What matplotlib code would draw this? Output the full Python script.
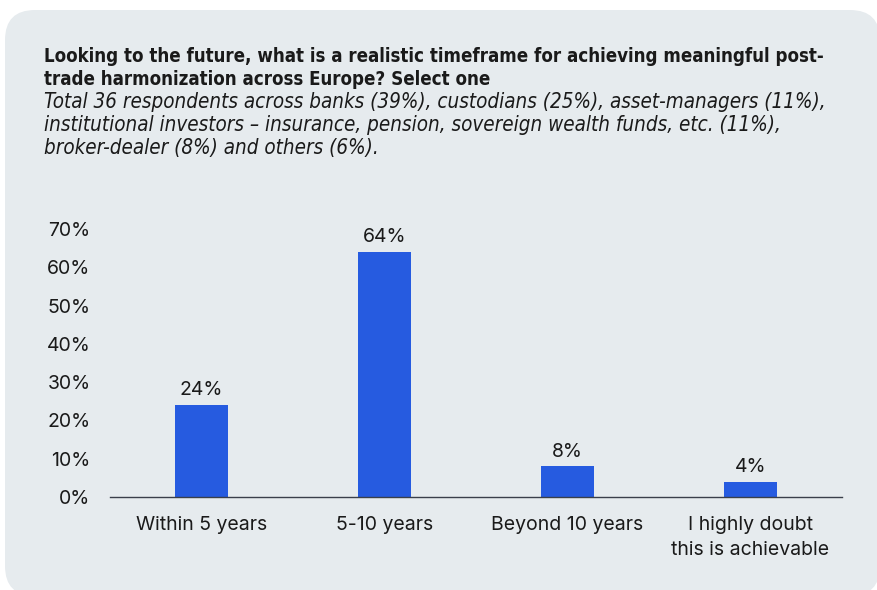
import matplotlib
matplotlib.use("Agg")
import matplotlib.pyplot as plt
from matplotlib.patches import FancyBboxPatch

categories = ["Within 5 years", "5-10 years", "Beyond 10 years", "I highly doubt\nthis is achievable"]
values = [24, 64, 8, 4]
yticks = [0, 10, 20, 30, 40, 50, 60, 70]

title_lines = [
    "Looking to the future, what is a realistic timeframe for achieving meaningful post-",
    "trade harmonization across Europe? Select one",
]
subtitle_lines = [
    "Total 36 respondents across banks (39%), custodians (25%), asset-managers (11%),",
    "institutional investors \u2013 insurance, pension, sovereign wealth funds, etc. (11%),",
    "broker-dealer (8%) and others (6%).",
]

W, H = 878, 590
card_color = "#E6EBEE"
bar_color = "#265BE0"
text_color = "#1a1a1a"
chart_font = ["Inter", "DejaVu Sans"]
head_font = ["DejaVu Sans"]

fig = plt.figure(figsize=(W / 100, H / 100), dpi=100)
fig.patch.set_facecolor("white")

# rounded card behind everything, laid out in inches so the corners stay circular
card = FancyBboxPatch((0.05, H / 100 - 5.96), 8.75, 5.86,
                      boxstyle="round,pad=0,rounding_size=0.3",
                      transform=fig.dpi_scale_trans, facecolor=card_color,
                      edgecolor="none", zorder=-10)
fig.patches.append(card)

for i, line in enumerate(title_lines):
    fig.text(44 / W, 1 - (62 + 23 * i) / H, line, fontsize=13.45, fontweight="bold",
             family=head_font, fontstretch="condensed", color=text_color,
             ha="left", va="baseline")
for i, line in enumerate(subtitle_lines):
    fig.text(44 / W, 1 - (108 + 23 * i) / H, line, fontsize=14.8, style="italic",
             family=head_font, fontstretch="condensed", color=text_color,
             ha="left", va="baseline")

ax = fig.add_axes([110 / W, 1 - 497 / H, 732 / W, 268 / H])
ax.set_facecolor("none")
x = range(len(categories))
bars = ax.bar(x, values, width=0.29, color=bar_color, zorder=2)
for xi, v in zip(x, values):
    ax.text(xi, v + 1.5, f"{v}%", ha="center", va="bottom", fontsize=14,
            family=chart_font, color=text_color)

ax.set_xlim(-0.5, len(categories) - 0.5)
ax.set_ylim(0, 70)
ax.set_yticks(yticks)
ax.set_yticklabels([f"{t}%" for t in yticks], family=chart_font, fontsize=14, color=text_color)
ax.set_xticks(list(x))
ax.set_xticklabels(categories, family=chart_font, fontsize=14, color=text_color,
                   linespacing=1.45, va="top")
ax.tick_params(axis="both", length=0)
ax.tick_params(axis="y", pad=14)
ax.tick_params(axis="x", pad=14)
for s in ["top", "right", "left"]:
    ax.spines[s].set_visible(False)
ax.spines["bottom"].set_color("#3a3f4a")
ax.spines["bottom"].set_linewidth(1.0)

fig.savefig("out.png", dpi=100, facecolor=fig.get_facecolor())
